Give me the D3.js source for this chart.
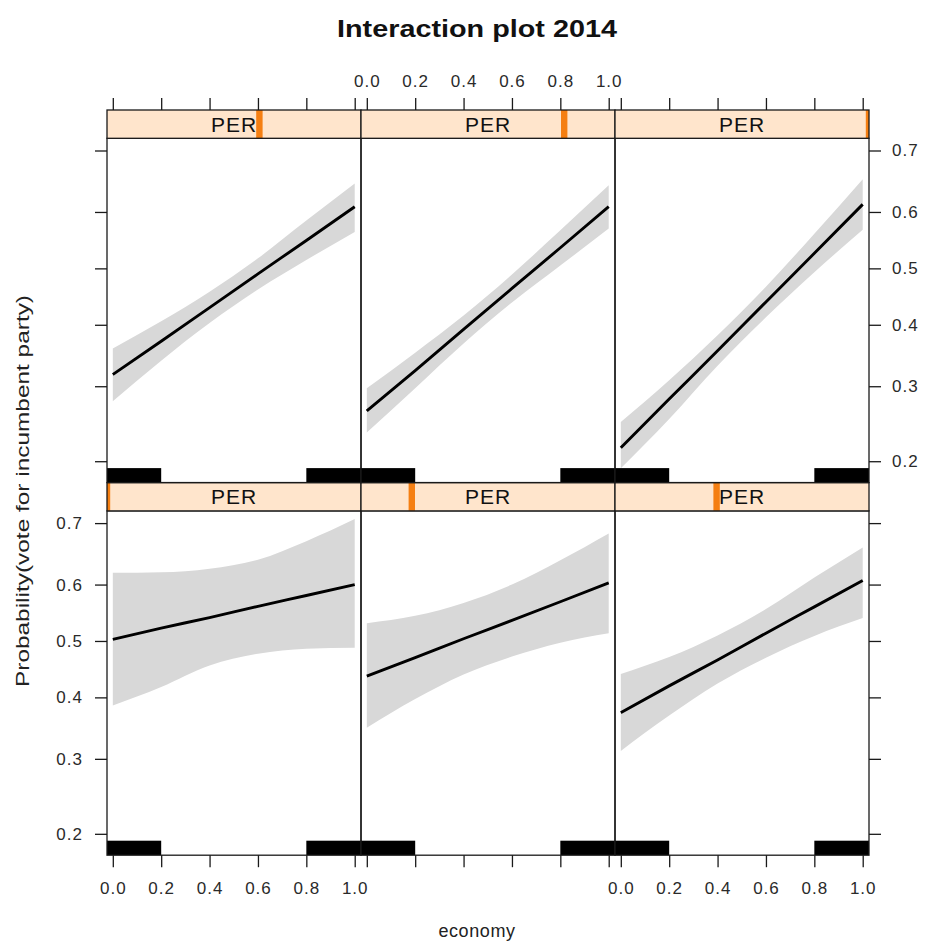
<!DOCTYPE html>
<html>
<head>
<meta charset="utf-8">
<script src="https://cdn.jsdelivr.net/npm/d3@7"></script>
<style>
  html, body { margin: 0; padding: 0; background: #fff; }
  svg { display: block; font-family: "Liberation Sans", Arial, sans-serif; }
</style>
</head>
<body>
<svg id="chart" width="928" height="942"></svg>
<script>
// ---------------- data ----------------
const titleText = "Interaction plot 2014";
const xLabel = "economy";
const yLabel = "Probability(vote for incumbent party)";
const stripLabel = "PER";

const perLevels = [0, 0.2, 0.4, 0.6, 0.8, 1.0];
const economyGrid = [0, 0.2, 0.4, 0.6, 0.8, 1.0];

// fitted probability, one row per PER level, one value per economyGrid point
const fitPER0  = [0.503, 0.523, 0.542, 0.562, 0.581, 0.600];
const fitPER02 = [0.437, 0.470, 0.504, 0.537, 0.570, 0.603];
const fitPER04 = [0.374, 0.420, 0.466, 0.514, 0.561, 0.607];
const fitPER06 = [0.318, 0.372, 0.430, 0.490, 0.550, 0.609];
const fitPER08 = [0.264, 0.324, 0.392, 0.464, 0.537, 0.609];
const fitPER10 = [0.216, 0.281, 0.356, 0.440, 0.527, 0.613];

const upperPER0  = [0.620, 0.621, 0.627, 0.642, 0.672, 0.706];
const upperPER02 = [0.532, 0.545, 0.568, 0.600, 0.641, 0.684];
const upperPER04 = [0.441, 0.471, 0.510, 0.557, 0.612, 0.662];
const upperPER06 = [0.360, 0.406, 0.458, 0.518, 0.585, 0.648];
const upperPER08 = [0.297, 0.353, 0.416, 0.489, 0.568, 0.645];
const upperPER10 = [0.249, 0.309, 0.382, 0.467, 0.562, 0.655];

const lowerPER0  = [0.386, 0.418, 0.456, 0.477, 0.486, 0.488];
const lowerPER02 = [0.349, 0.397, 0.440, 0.472, 0.497, 0.514];
const lowerPER04 = [0.312, 0.369, 0.424, 0.470, 0.509, 0.541];
const lowerPER06 = [0.278, 0.340, 0.403, 0.462, 0.515, 0.565];
const lowerPER08 = [0.235, 0.297, 0.368, 0.439, 0.505, 0.571];
const lowerPER10 = [0.192, 0.253, 0.332, 0.413, 0.493, 0.569];

const fits   = [fitPER0, fitPER02, fitPER04, fitPER06, fitPER08, fitPER10];
const uppers = [upperPER0, upperPER02, upperPER04, upperPER06, upperPER08, upperPER10];
const lowers = [lowerPER0, lowerPER02, lowerPER04, lowerPER06, lowerPER08, lowerPER10];

// rug: economy observations are concentrated in these ranges
const rugRanges = [[-0.05, 0.2], [0.8, 1.05]];

const xTicks = [0, 0.2, 0.4, 0.6, 0.8, 1.0];
const xTickLabels = ["0.0", "0.2", "0.4", "0.6", "0.8", "1.0"];
const yTicks = [0.2, 0.3, 0.4, 0.5, 0.6, 0.7];
const yTickLabels = ["0.2", "0.3", "0.4", "0.5", "0.6", "0.7"];

// ---------------- layout ----------------
const colLeft = [107, 361, 615];
const panelW = 254;
const stripH = 28.3;
const panelH = 344.3;
const rowTop = [110, 110 + stripH + panelH]; // strip tops: row 0 = top row, row 1 = bottom row
const logit = p => Math.log(p / (1 - p));

const svg = d3.select("#chart");
const tickFont = 17;
const ink = "#1a1a1a";

function xScale(col) {
  return d3.scaleLinear().domain([-0.024, 1.026]).range([colLeft[col], colLeft[col] + panelW]);
}
function yScale(row) {
  const top = rowTop[row] + stripH;
  return d3.scaleLinear().domain([-1.54, 0.935]).range([top + panelH, top]);
}

svg.append("defs");

perLevels.forEach((per, i) => {
  const row = i < 3 ? 1 : 0;
  const col = i % 3;
  const x = xScale(col);
  const yl = yScale(row);
  const y = p => yl(logit(p));
  const pTop = rowTop[row] + stripH;
  const pBot = pTop + panelH;
  const left = colLeft[col];

  const clipId = "clip" + i;
  svg.select("defs").append("clipPath").attr("id", clipId)
    .append("rect").attr("x", left).attr("y", pTop).attr("width", panelW).attr("height", panelH);
  const sclipId = "sclip" + i;
  svg.select("defs").append("clipPath").attr("id", sclipId)
    .append("rect").attr("x", left).attr("y", rowTop[row]).attr("width", panelW).attr("height", stripH);

  const g = svg.append("g").attr("clip-path", `url(#${clipId})`);
  const pts = economyGrid.map((e, k) => ({ e, fit: fits[i][k], up: uppers[i][k], lo: lowers[i][k] }));

  g.append("path").datum(pts)
    .attr("d", d3.area().x(d => x(d.e)).y0(d => y(d.lo)).y1(d => y(d.up)).curve(d3.curveMonotoneX))
    .attr("fill", "#d8d8d8");

  g.append("path").datum(pts)
    .attr("d", d3.line().x(d => x(d.e)).y(d => y(d.fit)).curve(d3.curveMonotoneX))
    .attr("fill", "none").attr("stroke", "#000").attr("stroke-width", 2.9);

  // rug
  g.selectAll("rect.rug").data(rugRanges).join("rect").attr("class", "rug")
    .attr("x", d => x(d[0])).attr("width", d => x(d[1]) - x(d[0]))
    .attr("y", pBot - 14.5).attr("height", 14.5).attr("fill", "#000");

  // panel border
  svg.append("rect").attr("x", left).attr("y", pTop).attr("width", panelW).attr("height", panelH)
    .attr("fill", "none").attr("stroke", ink).attr("stroke-width", 1.3);

  // strip
  const sg = svg.append("g");
  sg.append("rect").attr("x", left).attr("y", rowTop[row]).attr("width", panelW).attr("height", stripH)
    .attr("fill", "#ffe5cc");
  sg.append("rect").attr("clip-path", `url(#${sclipId})`)
    .attr("x", left + per * panelW - 3.2).attr("y", rowTop[row]).attr("width", 6.4).attr("height", stripH)
    .attr("fill", "#f57f12");
  sg.append("text").attr("x", left + panelW / 2).attr("y", rowTop[row] + stripH / 2 + 7.5)
    .attr("text-anchor", "middle").attr("font-size", 21).attr("fill", "#111")
    .attr("letter-spacing", 1).text(stripLabel);
  sg.append("rect").attr("x", left).attr("y", rowTop[row]).attr("width", panelW).attr("height", stripH)
    .attr("fill", "none").attr("stroke", ink).attr("stroke-width", 1.3);
});

function styleAxis(sel, showLabels) {
  sel.select(".domain").remove();
  sel.selectAll(".tick line").attr("stroke", ink).attr("stroke-width", 1.3);
  sel.selectAll(".tick text").attr("font-size", tickFont).attr("fill", "#2a2a2a")
    .attr("letter-spacing", 1).attr("font-family", "Liberation Sans, Arial, sans-serif")
    .style("display", showLabels ? null : "none");
}

// top axes
[0, 1, 2].forEach(col => {
  const ax = d3.axisTop(xScale(col)).tickValues(xTicks).tickFormat((d, k) => xTickLabels[k])
    .tickSize(12).tickPadding(11).tickSizeOuter(0);
  const g = svg.append("g").attr("transform", `translate(0,${rowTop[0]})`).call(ax);
  styleAxis(g, col === 1);
});
// bottom axes
[0, 1, 2].forEach(col => {
  const ax = d3.axisBottom(xScale(col)).tickValues(xTicks).tickFormat((d, k) => xTickLabels[k])
    .tickSize(12).tickPadding(15).tickSizeOuter(0);
  const g = svg.append("g").attr("transform", `translate(0,${rowTop[1] + stripH + panelH})`).call(ax);
  styleAxis(g, col !== 1);
});
// left / right axes
[0, 1].forEach(row => {
  const yl = yScale(row);
  const axL = d3.axisLeft(yl).tickValues(yTicks.map(logit)).tickFormat((d, k) => yTickLabels[k])
    .tickSize(12).tickPadding(12).tickSizeOuter(0);
  const gL = svg.append("g").attr("transform", `translate(${colLeft[0]},0)`).call(axL);
  styleAxis(gL, row === 1);
  const axR = d3.axisRight(yl).tickValues(yTicks.map(logit)).tickFormat((d, k) => yTickLabels[k])
    .tickSize(12).tickPadding(11).tickSizeOuter(0);
  const gR = svg.append("g").attr("transform", `translate(${colLeft[2] + panelW},0)`).call(axR);
  styleAxis(gR, row === 0);
});

// title & axis labels
svg.append("text").attr("x", 477).attr("y", 37).attr("text-anchor", "middle")
  .attr("font-size", 24).attr("font-weight", "bold").attr("fill", "#111")
  .attr("textLength", 280).attr("lengthAdjust", "spacingAndGlyphs")
  .text(titleText);
svg.append("text").attr("x", 477).attr("y", 937).attr("text-anchor", "middle")
  .attr("font-size", 18).attr("fill", "#222").attr("letter-spacing", 0.6).text(xLabel);
svg.append("text").attr("transform", "translate(29,491) rotate(-90)").attr("text-anchor", "middle")
  .attr("font-size", 19).attr("fill", "#222")
  .attr("textLength", 392).attr("lengthAdjust", "spacingAndGlyphs").text(yLabel);
</script>
</body>
</html>
